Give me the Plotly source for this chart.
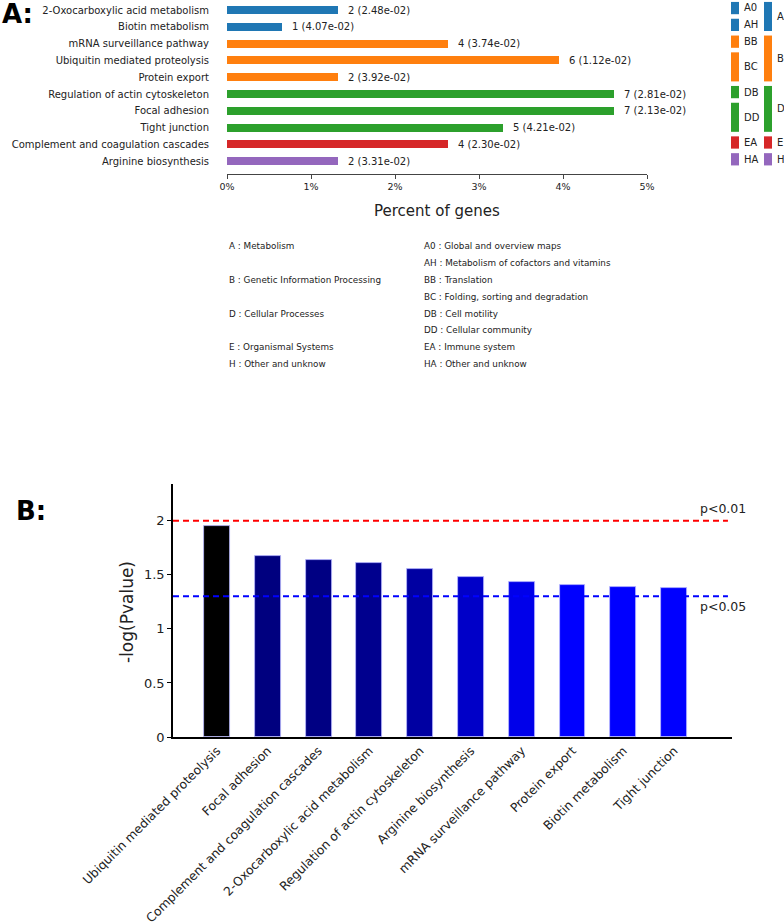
import plotly.graph_objects as go

# ---------------- Data ----------------
pathways_a = ["2-Oxocarboxylic acid metabolism", "Biotin metabolism", "mRNA surveillance pathway",
              "Ubiquitin mediated proteolysis", "Protein export", "Regulation of actin cytoskeleton",
              "Focal adhesion", "Tight junction", "Complement and coagulation cascades",
              "Arginine biosynthesis"]
percent_genes = [1.32, 0.66, 2.63, 3.95, 1.32, 4.61, 4.61, 3.29, 2.63, 1.32]
gene_counts = [2, 1, 4, 6, 2, 7, 7, 5, 4, 2]
pvalues_txt = ["2.48e-02", "4.07e-02", "3.74e-02", "1.12e-02", "3.92e-02",
               "2.81e-02", "2.13e-02", "4.21e-02", "2.30e-02", "3.31e-02"]
level2 = ["A0", "AH", "BB", "BC", "BC", "DB", "DD", "DD", "EA", "HA"]
level1 = ["A", "A", "B", "B", "B", "D", "D", "D", "E", "H"]
level1_colors = {"A": "#1f77b4", "B": "#ff7f0e", "D": "#2ca02c", "E": "#d62728", "H": "#9467bd"}
x_ticks_a = [0, 1, 2, 3, 4, 5]
x_ticktext_a = ["0%", "1%", "2%", "3%", "4%", "5%"]

legend_left = [("A : Metabolism", 0), ("B : Genetic Information Processing", 2),
               ("D : Cellular Processes", 4), ("E : Organismal Systems", 6),
               ("H : Other and unknow", 7)]
legend_right = ["A0 : Global and overview maps", "AH : Metabolism of cofactors and vitamins",
                "BB : Translation", "BC : Folding, sorting and degradation",
                "DB : Cell motility", "DD : Cellular community",
                "EA : Immune system", "HA : Other and unknow"]

pathways_b = ["Ubiquitin mediated proteolysis", "Focal adhesion", "Complement and coagulation cascades",
              "2-Oxocarboxylic acid metabolism", "Regulation of actin cytoskeleton",
              "Arginine biosynthesis", "mRNA surveillance pathway", "Protein export",
              "Biotin metabolism", "Tight junction"]
neg_log_p = [1.95, 1.67, 1.64, 1.61, 1.55, 1.48, 1.43, 1.41, 1.39, 1.38]
colors_b = ["#000000", "#00007f", "#000083", "#00008e", "#0000a2", "#0000c8",
            "#0000ea", "#0000ff", "#0000ff", "#0000ff"]
y_ticks_b = [0, 0.5, 1, 1.5, 2]
y_ticktext_b = ["0", "0.5", "1", "1.5", "2"]
thresholds = [(2.0, "red", "p<0.01"), (1.301, "blue", "p<0.05")]

W, H = 784, 924
FONT = "DejaVu Sans"
TXT = "#222"


def px(x):
    return x / W


def py(y):
    return 1 - y / H


fig = go.Figure()

rows = list(range(len(pathways_a)))
fig.add_trace(go.Bar(
    y=rows, x=percent_genes, orientation="h", width=0.48,
    marker=dict(color=[level1_colors[c] for c in level1], line=dict(width=0)),
    xaxis="x", yaxis="y", showlegend=False, hoverinfo="skip"))

fig.add_trace(go.Bar(
    x=list(range(len(pathways_b))), y=neg_log_p, width=0.51,
    marker=dict(color=colors_b, line=dict(width=0.8, color="#b8b8ff")),
    xaxis="x2", yaxis="y2", showlegend=False, hoverinfo="skip"))

annotations = []
shapes = []


def note(x, y, text, size, xref="paper", yref="paper", xanchor="left", yanchor="middle", **kw):
    annotations.append(dict(x=x, y=y, xref=xref, yref=yref, text=text, showarrow=False,
                            xanchor=xanchor, yanchor=yanchor,
                            font=dict(size=size, color=kw.pop("color", TXT)), **kw))


# bar value labels
for i, (v, n, p) in enumerate(zip(percent_genes, gene_counts, pvalues_txt)):
    note(v, i, f"{n} ({p})", 10, xref="x", yref="y", xshift=8)


# category side bars
def groups(labels):
    out = []
    start = 0
    for i in range(1, len(labels) + 1):
        if i == len(labels) or labels[i] != labels[start]:
            out.append((labels[start], start, i - 1))
            start = i
    return out


for lab, s, e in groups(level2):
    col = level1_colors[level1[s]]
    shapes.append(dict(type="rect", xref="paper", yref="y", x0=px(731), x1=px(739),
                       y0=s - 0.48, y1=e + 0.25, fillcolor=col, line=dict(width=0)))
    note(px(742), (s + e) / 2 - 0.12, lab, 10, yref="y")
for lab, s, e in groups(level1):
    col = level1_colors[lab]
    shapes.append(dict(type="rect", xref="paper", yref="y", x0=px(764), x1=px(772),
                       y0=s - 0.48, y1=e + 0.25, fillcolor=col, line=dict(width=0)))
    note(px(775), (s + e) / 2 - 0.12, lab, 10, yref="y")

# title of x axis A
note(px(437), py(211), "Percent of genes", 15, xanchor="center")

# category legend text
for txt, r in legend_left:
    note(px(227), py(246 + 16.9 * r), txt, 8.8)
for r, txt in enumerate(legend_right):
    note(px(422), py(246 + 16.9 * r), txt, 8.8)

# panel labels
note(px(0), py(14), "<b>A:</b>", 26, color="black")
note(px(14), py(511), "<b>B:</b>", 26, color="black")

# threshold lines
x_lo, x_hi = -0.866, 10.14
for val, col, lab in thresholds:
    shapes.append(dict(type="line", xref="x2", yref="y2", x0=x_lo, x1=10.06, y0=val, y1=val,
                       line=dict(color=col, width=2, dash="6px,4px")))
note(9.47, thresholds[0][0], thresholds[0][2], 12.5, xref="x2", yref="y2",
     yanchor="bottom", yshift=3)
note(9.47, thresholds[1][0], thresholds[1][2], 12.5, xref="x2", yref="y2",
     yanchor="top", yshift=-1)

note(px(127), py(612), "-log(Pvalue)", 17, xanchor="center", textangle=-90)

fig.update_layout(
    width=W, height=H, margin=dict(l=0, r=0, t=0, b=0, autoexpand=False),
    paper_bgcolor="white", plot_bgcolor="white",
    font=dict(family=FONT, color=TXT),
    bargap=0,
    xaxis=dict(domain=[px(227), px(647)], range=[0, 5], anchor="y", automargin=False,
               tickvals=x_ticks_a, ticktext=x_ticktext_a, ticks="outside", ticklen=4,
               tickcolor="#444", showline=True, linecolor="#444", linewidth=1,
               showgrid=False, zeroline=False, tickfont=dict(size=9.5)),
    yaxis=dict(domain=[py(174), 1], range=[9.76, -0.595], anchor="x", automargin=False,
               tickvals=rows, ticktext=pathways_a, ticks="", showline=False,
               showgrid=False, zeroline=False, tickfont=dict(size=10),
               ticklabelstandoff=17),
    xaxis2=dict(domain=[px(173), px(732)], range=[x_lo, x_hi], anchor="y2", automargin=False,
                tickvals=list(range(len(pathways_b))), ticktext=pathways_b, tickangle=-45,
                ticks="", showline=True, linecolor="black", linewidth=1.5,
                showgrid=False, zeroline=False, tickfont=dict(size=12.3)),
    yaxis2=dict(domain=[py(737), py(484)], range=[0, 2.34], anchor="x2", automargin=False,
                tickvals=y_ticks_b, ticktext=y_ticktext_b, ticks="outside", ticklen=4,
                tickcolor="black", showline=True, linecolor="black", linewidth=1.5,
                showgrid=False, zeroline=False, tickfont=dict(size=13)),
    annotations=annotations, shapes=shapes,
)

fig.write_html("out.html", config={"displayModeBar": False},
               post_script="document.body.style.margin='0';document.body.style.padding='0';")
